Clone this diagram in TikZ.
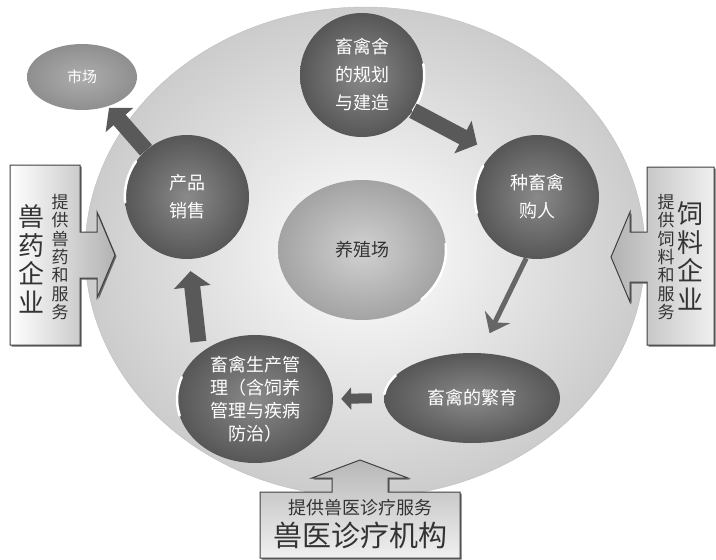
\documentclass[tikz,border=0pt]{standalone}
\usepackage{fontspec}
\setmainfont{Noto Sans CJK SC}
\usetikzlibrary{shapes.geometric,arrows.meta,shadows}

\tikzset{
  stage/.style={circle, minimum size=124pt, inner sep=0pt, align=center,
    inner color=black!46, outer color=black!66, text=white,
    font=\fontsize{18}{28}\selectfont},
  stageoval/.style={stage, ellipse},
  glint/.style={white, line width=2.5pt, line cap=round},
  fatarrow/.style={black!65, line width=16pt, -{Triangle[length=16pt, width=36pt]}},
  thinarrow/.style={black!60, line width=5pt, -{Stealth[length=18pt, width=28pt, inset=6pt]}},
  supplier/.style={draw=black!75, line width=1pt,
    drop shadow={shadow xshift=1.5pt, shadow yshift=-1.5pt, fill=black!60, opacity=1}},
  firmname/.style={align=center, text=black!80, font=\fontsize{26}{28.5}\selectfont},
  service/.style={align=center, text=black!80, font=\fontsize{17}{18.4}\selectfont}
}

\begin{document}
\begin{tikzpicture}[x=1pt, y=-1pt]
  \useasboundingbox (0,0) rectangle (716,560);

  % the plate under the farm
  \node[ellipse, minimum width=560pt, minimum height=490pt, draw=black!25,
    inner color=white, outer color=black!20] (plate) at (365,252) {};

  % stages
  \node[stageoval, minimum width=168pt, minimum height=140pt, inner color=black!18,
    outer color=black!36, text=black!80] (farm) at (362,250) {养殖场};
  \node[stage] (plan) at (362,75) {畜禽舍\\的规划\\与建造};
  \node[stage] (buy) at (537,197) {种畜禽\\购人};
  \node[stageoval, minimum width=176pt, minimum height=90pt] (breed) at (472,398) {畜禽的繁育};
  \node[stageoval, minimum width=156pt, minimum height=128pt, font=\fontsize{18}{23}\selectfont]
    (manage) at (255,399) {畜禽生产管\\理（含饲养\\管理与疾病\\防治）};
  \node[stage] (sales) at (187,197) {产品\\销售};
  \node[stageoval, minimum width=110pt, minimum height=66pt, inner color=black!32,
    outer color=black!44, font=\fontsize{15}{15}\selectfont] (market) at (82,77) {市场};

  % glints
  \draw[glint] (sales.145) arc[start angle=145, end angle=185, radius=62pt];
  \draw[glint] (plan.10) arc[start angle=10, end angle=-35, radius=62pt];
  \draw[glint] (buy.150) arc[start angle=150, end angle=195, radius=62pt];
  \draw[glint] ([shift={(5:84pt and 70pt)}]farm.center) arc[start angle=5, end angle=-45, x radius=84pt, y radius=70pt];
  \draw[glint] ([shift={(150:88pt and 45pt)}]breed.center) arc[start angle=150, end angle=175, x radius=88pt, y radius=45pt];
  \draw[glint] ([shift={(160:78pt and 64pt)}]manage.center) arc[start angle=160, end angle=195, x radius=78pt, y radius=64pt];

  % flow
  \draw[fatarrow, shorten >=2pt] (sales) -- (market);
  \draw[fatarrow, shorten >=18pt] (plan.-35) -- (buy.135);
  \draw[thinarrow, shorten >=22pt] (buy.-100) -- (breed.80);
  \draw[fatarrow, line width=10pt, -{Triangle[length=10pt, width=22pt]},
    shorten <=12pt, shorten >=8pt] (breed.west) -- (manage.east);
  \draw[fatarrow, shorten <=12pt, shorten >=12pt] (manage.north west) -- (sales.-88);

  % suppliers
  \path[supplier, left color=white, right color=black!30]
    (10,165) -- (80,165) -- (80,232) -- (97,232) -- (97,212) -- (115,255)
    -- (97,298) -- (97,278) -- (80,278) -- (80,345) -- (10,345) -- cycle;
  \path[supplier, left color=black!30, right color=black!6]
    (714,167) -- (647,167) -- (647,232) -- (630,232) -- (630,212) -- (611,257)
    -- (630,302) -- (630,282) -- (647,282) -- (647,345) -- (714,345) -- cycle;
  \path[supplier, top color=black!28, bottom color=black!6]
    (260,558) -- (260,492) -- (332,492) -- (332,478) -- (312,478) -- (360,460)
    -- (408,478) -- (388,478) -- (388,492) -- (460,492) -- (460,558) -- cycle;

  \node[firmname] (vetdrug) at (32,259) {兽\\药\\企\\业};
  \node[service] (vetdrugsvc) at (60,257) {提\\供\\兽\\药\\和\\服\\务};
  \node[service] (feedsvc) at (666,257) {提\\供\\饲\\料\\和\\服\\务};
  \node[firmname] (feed) at (690,256) {饲\\料\\企\\业};
  \node[service, font=\fontsize{18}{18}\selectfont] (clinicsvc) at (360,508) {提供兽医诊疗服务};
  \node[firmname, font=\fontsize{29}{29}\selectfont] (clinic) at (360,535) {兽医诊疗机构};
\end{tikzpicture}
\end{document}
